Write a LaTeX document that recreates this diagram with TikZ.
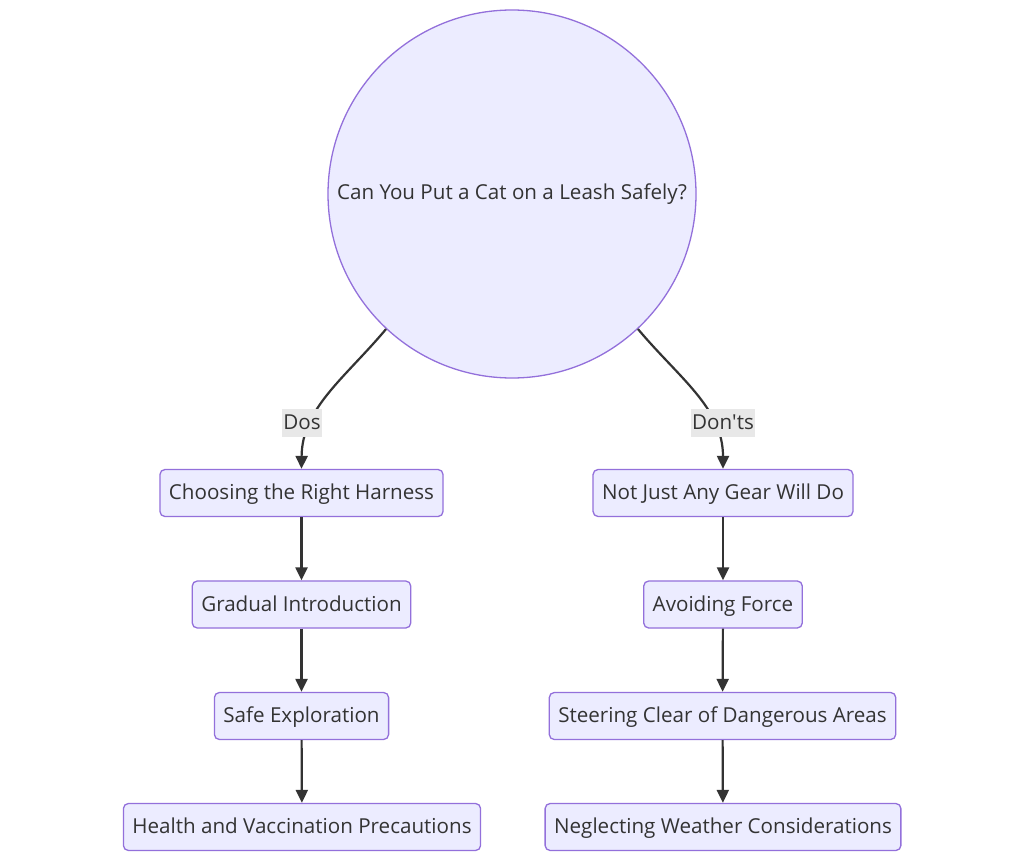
\documentclass[tikz,border=0pt]{standalone}
\usepackage{fontspec}
\setmainfont{Open Sans}
\usetikzlibrary{arrows.meta}
\definecolor{nodefill}{HTML}{ECECFF}
\definecolor{nodestroke}{HTML}{9370DB}
\definecolor{txt}{HTML}{333333}
\definecolor{lblbg}{HTML}{E8E8E8}
\tikzset{
  box/.style={draw=nodestroke, fill=nodefill, line width=1.3pt, rounded corners=5pt,
    minimum height=47pt, inner xsep=9pt, text height=16.5pt, text depth=3pt, text=txt,
    font=\fontsize{20.6}{24}\selectfont},
  rootnode/.style={circle, draw=nodestroke, fill=nodefill, line width=1.3pt,
    minimum size=368pt, text=txt, font=\fontsize{20.6}{24}\selectfont},
  edgelbl/.style={fill=lblbg, text=txt, inner xsep=1pt, inner ysep=0pt, text height=16pt, text depth=3.5pt,
    minimum height=28pt, font=\fontsize{20.6}{24}\selectfont},
  conn/.style={draw=txt, line width=2.2pt, -{Triangle[length=13pt,width=12pt]}}
}
\begin{document}
\begin{tikzpicture}[x=1pt,y=-1pt]
\useasboundingbox[fill=white] (0,0) rectangle (1024,861);
\node[rootnode] (root) at (512,194) {Can You Put a Cat on a Leash Safely?};
\node[box] (a1) at (301.5,493) {Choosing the Right Harness};
\node[box] (a2) at (301.5,604.5) {Gradual Introduction};
\node[box] (a3) at (301.5,716) {Safe Exploration};
\node[box] (a4) at (302,827) {Health and Vaccination Precautions};
\node[box] (b1) at (723,493) {Not Just Any Gear Will Do};
\node[box] (b2) at (723,604.5) {Avoiding Force};
\node[box] (b3) at (722.5,716) {Steering Clear of Dangerous Areas};
\node[box] (b4) at (723,827) {Neglecting Weather Considerations};
\draw[conn] (root.227) .. controls (345,378) and (302,408) .. (a1.north);
\draw[conn] (root.313) .. controls (679,378) and (723,408) .. (b1.north);
\node[edgelbl] (ld) at (302,423) {Dos};
\node[edgelbl] (lr) at (723,423) {Don\textquotesingle ts};
\draw[conn] (a1) -- (a2);
\draw[conn] (a2) -- (a3);
\draw[conn] (a3) -- (a4);
\draw[conn] (b1) -- (b2);
\draw[conn] (b2) -- (b3);
\draw[conn] (b3) -- (b4);
\end{tikzpicture}
\end{document}
